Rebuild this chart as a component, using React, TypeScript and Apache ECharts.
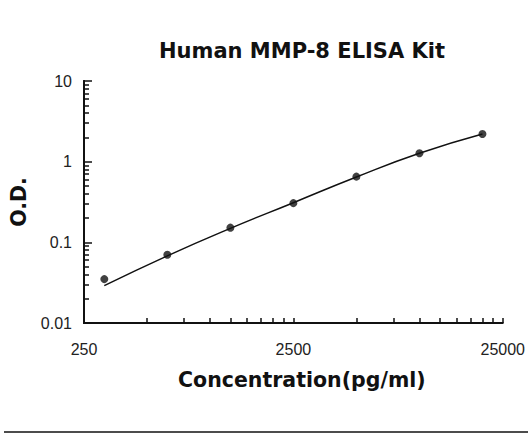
import React, { useEffect, useRef } from "react";
import * as echarts from "echarts";

// Measured standards
const concentrations = [312.5, 625, 1250, 2500, 5000, 10000, 20000];
const odValues = [0.035, 0.07, 0.152, 0.306, 0.652, 1.27, 2.2];

// Fitted standard curve
const curveConc = [312.5, 625, 1250, 2500, 5000, 10000, 20000];
const curveOD = [0.029, 0.068, 0.149, 0.31, 0.645, 1.27, 2.2];

// Axis tick labels
const xTickLabels = [250, 2500, 25000];
const yTickLabels = [0.01, 0.1, 1, 10];
const xMinorTicks = [500, 750, 1000, 1250, 1500, 1750, 2000, 2250, 2500, 5000, 7500, 10000, 12500, 15000, 17500, 20000, 22500, 25000];
const yMinorTicks = [0.02, 0.03, 0.04, 0.05, 0.06, 0.07, 0.08, 0.09, 0.2, 0.3, 0.4, 0.5, 0.6, 0.7, 0.8, 0.9, 2, 3, 4, 5, 6, 7, 8, 9];

const X0 = xTickLabels[0];
const tx = (v: number) => Math.log10(v / X0);
const ty = (v: number) => Math.log10(v);
const fmt = (v: number) => String(Number(v.toPrecision(4)));

export default function App() {
  const ref = useRef<HTMLDivElement>(null);
  useEffect(() => {
    if (!ref.current) return;
    const chart = echarts.init(ref.current, null, { renderer: "svg" });
    const labelFont = { fontFamily: "Liberation Sans", fontSize: 16, color: "#222" };
    const boldFont = { fontFamily: "DejaVu Sans", fontWeight: "bold" as const, fontSize: 20.5, color: "#111" };
    chart.setOption({
      animation: false,
      backgroundColor: "#fff",
      title: {
        text: "Human MMP-8 ELISA Kit",
        left: 159,
        top: 40,
        padding: 0,
        textStyle: { ...boldFont, fontSize: 21 },
      },
      grid: { left: 84, right: 23, top: 81, bottom: 111, containLabel: false },
      xAxis: {
        type: "value",
        min: tx(xTickLabels[0]),
        max: tx(xTickLabels[xTickLabels.length - 1]),
        interval: 1,
        name: "Concentration(pg/ml)",
        nameLocation: "middle",
        nameGap: 46,
        nameTextStyle: { ...boldFont, padding: [0, 0, 0, 17] },
        axisLine: { onZero: false, lineStyle: { color: "#111", width: 2 } },
        axisTick: {
          inside: true,
          length: 5,
          customValues: xMinorTicks.map(tx),
          lineStyle: { color: "#111", width: 1.5 },
        },
        axisLabel: { ...labelFont, margin: 18, formatter: (v: number) => fmt(X0 * Math.pow(10, v)) },
        splitLine: { show: false },
      },
      yAxis: [
        {
          type: "value",
          min: ty(yTickLabels[0]),
          max: ty(yTickLabels[yTickLabels.length - 1]),
          interval: 1,
          name: "O.D.",
          nameLocation: "middle",
          nameGap: 50,
          nameTextStyle: boldFont,
          axisLine: { onZero: false, lineStyle: { color: "#111", width: 2 } },
          axisTick: { inside: true, length: 8, lineStyle: { color: "#111", width: 1.5 } },
          axisLabel: { ...labelFont, margin: 12, formatter: (v: number) => fmt(Math.pow(10, v)) },
          splitLine: { show: false },
        },
        {
          type: "value",
          position: "left",
          offset: 0,
          min: ty(yTickLabels[0]),
          max: ty(yTickLabels[yTickLabels.length - 1]),
          axisLine: { show: true, onZero: false, lineStyle: { color: "#111", width: 2 } },
          axisTick: {
            show: true,
            inside: true,
            length: 5,
            customValues: yMinorTicks.map(ty),
            lineStyle: { color: "#111", width: 1.5 },
          },
          axisLabel: { show: false },
          splitLine: { show: false },
        },
      ],
      series: [
        {
          type: "line",
          data: curveConc.map((c, i) => [tx(c), ty(curveOD[i])]),
          smooth: true,
          showSymbol: false,
          lineStyle: { color: "#111", width: 1.5 },
          z: 2,
        },
        {
          type: "scatter",
          data: concentrations.map((c, i) => [tx(c), ty(odValues[i])]),
          symbol: "circle",
          symbolSize: 8,
          itemStyle: { color: "#111" },
          z: 3,
        },
      ],
      graphic: [
        {
          type: "line",
          shape: { x1: 4, y1: 432, x2: 528, y2: 432 },
          style: { stroke: "#111", lineWidth: 1.5 },
        },
      ],
    });
    return () => chart.dispose();
  }, []);
  return <div ref={ref} style={{ position: "fixed", left: 0, top: 0, width: 528, height: 434 }} />;
}
